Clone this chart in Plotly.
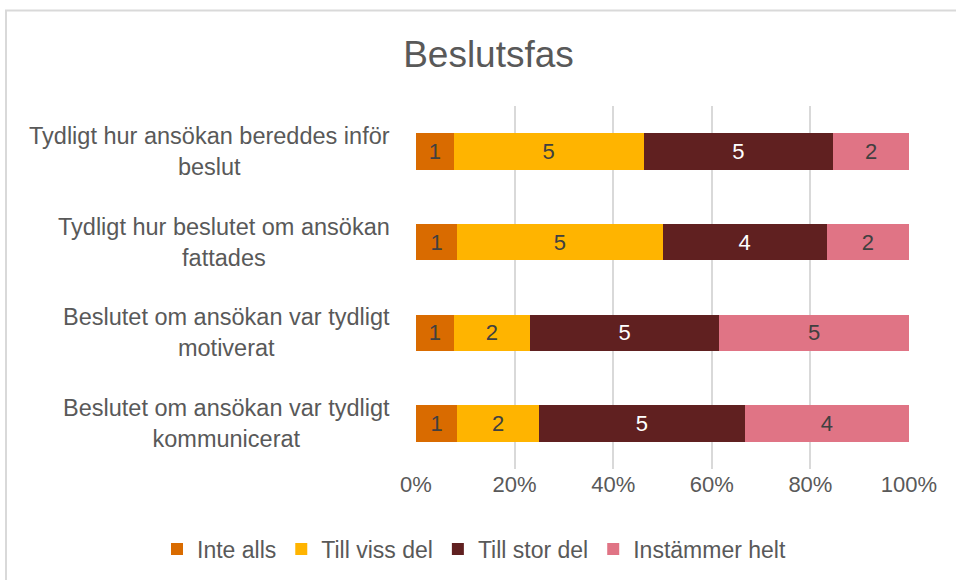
import plotly.graph_objects as go

categories = [
    "Tydligt hur ansökan bereddes inför<br>beslut",
    "Tydligt hur beslutet om ansökan<br>fattades",
    "Beslutet om ansökan var tydligt<br>motiverat",
    "Beslutet om ansökan var tydligt<br>kommunicerat",
]
series_names = ["Inte alls", "Till viss del", "Till stor del", "Instämmer helt"]
inte_alls = [1, 1, 1, 1]
till_viss_del = [5, 5, 2, 2]
till_stor_del = [5, 4, 5, 5]
instammer_helt = [2, 2, 5, 4]
tick_vals = [0, 20, 40, 60, 80, 100]
tick_text = ["0%", "20%", "40%", "60%", "80%", "100%"]

colors = ["#D96B00", "#FFB400", "#602020", "#E07485"]
text_colors = ["#404040", "#404040", "#FFFFFF", "#404040"]

all_series = [inte_alls, till_viss_del, till_stor_del, instammer_helt]
totals = [sum(vals) for vals in zip(*all_series)]

W, H = 956, 580
L, R, T, B = 416, 909, 106, 469  # plot area in pixels
pw, ph = R - L, B - T

FONT = "Liberation Sans, Arial, sans-serif"
GRAY = "#595959"

fig = go.Figure()
for name, vals, col, tcol in zip(series_names, all_series, colors, text_colors):
    pct = [v / t * 100 for v, t in zip(vals, totals)]
    fig.add_trace(go.Bar(
        name=name,
        y=categories,
        x=pct,
        orientation="h",
        customdata=vals,
        texttemplate="%{customdata}",
        textposition="inside",
        insidetextanchor="middle",
        textangle=0,
        constraintext="none",
        textfont=dict(family=FONT, size=22, color=tcol),
        marker=dict(color=col, line=dict(width=0)),
        hoverinfo="skip",
    ))

annotations = []
for c in categories:
    annotations.append(dict(
        x=(392 - L) / pw, xref="paper", xanchor="right",
        y=c, yref="y", yanchor="middle",
        text=c, showarrow=False, align="center",
        font=dict(family=FONT, size=23.5, color=GRAY),
    ))

# chart border (top and left visible, others beyond page)
shapes = [dict(
    type="rect", xref="paper", yref="paper",
    x0=(6 - L) / pw, x1=(W + 10 - L) / pw,
    y0=(B - (H + 10)) / ph, y1=(B - 10.5) / ph,
    line=dict(color="#D9D9D9", width=2), fillcolor="rgba(0,0,0,0)",
    layer="below",
)]

fig.update_layout(
    width=W, height=H,
    margin=dict(l=L, r=W - R, t=T, b=H - B, pad=0, autoexpand=False),
    paper_bgcolor="white", plot_bgcolor="white",
    barmode="stack", bargap=0.6,
    font=dict(family=FONT, size=22, color=GRAY),
    title=dict(
        text="Beslutsfas", x=488.5 / W, xanchor="center", xref="container",
        y=1 - 54 / H, yanchor="middle", yref="container",
        font=dict(family=FONT, size=37, color=GRAY),
    ),
    xaxis=dict(
        range=[0, 100], tickvals=tick_vals, ticktext=tick_text,
        showgrid=True, gridcolor="#D9D9D9", gridwidth=1.5,
        zeroline=False, showline=False, ticks="",
        tickfont=dict(family=FONT, size=22, color=GRAY),
        fixedrange=True, automargin=False,
    ),
    yaxis=dict(
        categoryorder="array", categoryarray=categories,
        autorange="reversed", showticklabels=False, showgrid=False,
        zeroline=False, showline=False, ticks="", automargin=False,
    ),
    legend=dict(
        orientation="h", x=(157 - L) / pw, xref="paper", xanchor="left",
        y=(B - 549) / ph, yref="paper", yanchor="middle",
        font=dict(family=FONT, size=23, color=GRAY),
        traceorder="normal", itemwidth=30,
    ),
    annotations=annotations,
    shapes=shapes,
    showlegend=True,
)

fig.write_html("out.html")
